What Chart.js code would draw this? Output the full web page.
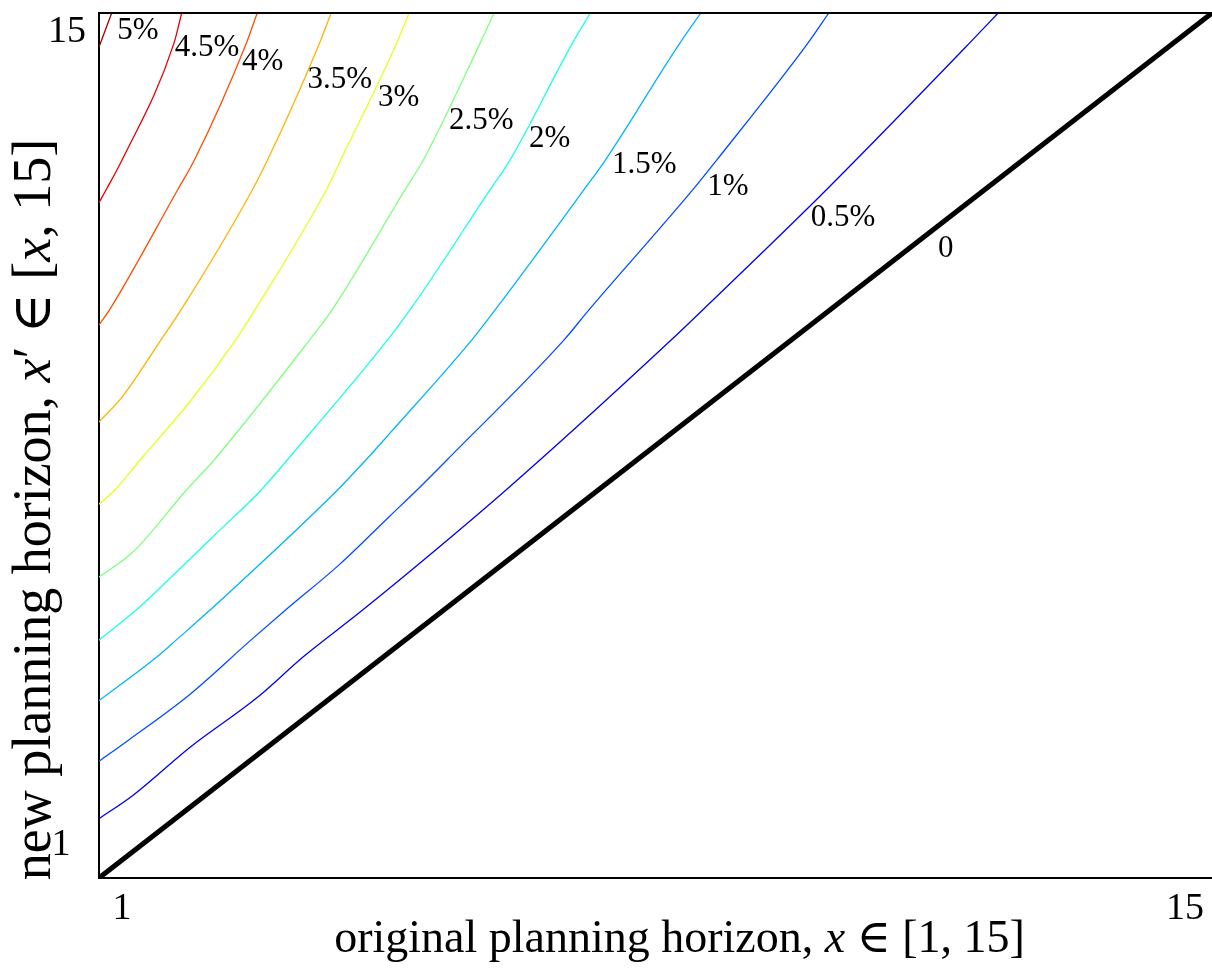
<!DOCTYPE html>
<html>
<head>
<meta charset="utf-8">
<title>planning horizon contours</title>
<script src="https://cdn.jsdelivr.net/npm/chart.js@4.4.1/dist/chart.umd.min.js"></script>
<style>
  html, body { margin: 0; padding: 0; background: #fff; overflow: hidden; }
  canvas { display: block; }
</style>
</head>
<body>
<canvas id="chart" width="1212" height="968"></canvas>
<script>
// ── contour levels, jet colours ──
const levelLabels = ['0.5%', '1%', '1.5%', '2%', '2.5%', '3%', '3.5%', '4%', '4.5%', '5%'];
const levelColors = ['#0000e6', '#004dff', '#00b3ff', '#1affe6', '#80ff80',
                     '#e6ff1a', '#ffb300', '#ff4d00', '#e60000', '#a00000'];

// contour lines, [x, x']
const line0  = [[1, 1], [15, 15]];
const line05 = [[1, 1.96], [1.43, 2.34], [2.15, 3.12], [2.99, 3.92], [3.57, 4.58], [4.32, 5.34],
                [6.12, 7.28], [8.20, 9.71], [8.59, 10.19], [10.15, 12.14], [11.94, 14.50], [12.31, 15]];
const line1  = [[1, 2.89], [1.37, 3.23], [2.15, 3.98], [2.91, 4.85], [3.35, 5.34], [4.03, 6.08],
                [4.66, 6.86], [5.00, 7.28], [5.38, 7.77], [6.85, 9.71], [7.16, 10.19], [8.47, 12.14],
                [8.77, 12.62], [9.91, 14.50], [10.18, 15]];
const line15 = [[1, 3.87], [1.73, 4.58], [1.97, 4.85], [2.40, 5.34], [4.00, 7.28], [4.36, 7.77],
                [4.66, 8.20], [5.69, 9.71], [5.98, 10.19], [7.10, 12.14], [7.37, 12.62],
                [8.30, 14.50], [8.57, 15]];
const line2  = [[1, 4.85], [1.47, 5.34], [1.86, 5.81], [2.43, 6.52], [3.04, 7.28], [3.37, 7.77],
                [4.63, 9.71], [4.91, 10.19], [5.92, 12.14], [6.17, 12.62], [6.95, 14.50], [7.18, 15]];
const line25 = [[1, 5.87], [1.43, 6.28], [2.10, 7.28], [2.45, 7.77], [3.65, 9.71], [3.93, 10.19],
                [4.85, 12.14], [5.08, 12.62], [5.79, 14.50], [5.97, 15]];
const line3  = [[1, 7.05], [1.20, 7.28], [1.52, 7.77], [2.15, 8.72], [2.72, 9.71], [2.96, 10.19],
                [3.86, 12.14], [4.04, 12.62], [4.74, 14.50], [4.90, 15]];
const line35 = [[1, 8.38], [1.30, 8.80], [1.78, 9.71], [2.03, 10.19], [2.93, 12.14], [3.12, 12.62],
                [3.77, 14.50], [3.92, 15]];
const line4  = [[1, 9.95], [1.13, 10.19], [1.99, 12.14], [2.20, 12.62], [2.85, 14.50], [2.99, 15]];
const line45 = [[1, 11.93], [1.09, 12.14], [1.29, 12.62], [1.94, 14.50], [2.04, 15]];
const line5  = [[1, 14.45], [1.16, 15]];
const contourLines = [line05, line1, line15, line2, line25, line3, line35, line4, line45, line5];

// where the level labels sit (same order, then the 0 line)
const labelTexts = [...levelLabels, '0'];
const labelX = [10.36, 8.91, 7.86, 6.67, 5.81, 4.77, 4.03, 3.06, 2.36, 1.49, 11.65];
const labelY = [11.68, 12.18, 12.54, 12.96, 13.25, 13.62, 13.92, 14.21, 14.43, 14.71, 11.18];

const xTickValues = [1, 15];
const xTickLabels = ['1', '15'];
const yTickValues = [1, 15];
const yTickLabels = ['1', '15'];

const SERIF = '"Liberation Serif", "DejaVu Serif", serif';

// titles as runs so the maths can be italic
const xTitle = [['original planning horizon, ', ''], ['x', 'italic '], [' \u2208 [1, 15]', '']];
const yTitle = [['new planning horizon, ', ''], ['x', 'italic '], ['\u2032 \u2208 [', ''],
                ['x', 'italic '], [', 15]', '']];

function drawRuns(ctx, runs, size, cx, cy, angle) {
  ctx.save();
  ctx.translate(cx, cy);
  ctx.rotate(angle);
  ctx.textAlign = 'left';
  ctx.textBaseline = 'alphabetic';
  let total = 0;
  const widths = runs.map(([t, style]) => {
    ctx.font = style + size + 'px ' + SERIF;
    const w = ctx.measureText(t).width;
    total += w;
    return w;
  });
  let pos = -total / 2;
  runs.forEach(([t, style], i) => {
    ctx.font = style + size + 'px ' + SERIF;
    ctx.fillText(t, pos, 0);
    pos += widths[i];
  });
  ctx.restore();
}

// tick labels, contour labels and titles, placed like the LaTeX export
const mathLabels = {
  id: 'mathLabels',
  afterDraw(chart) {
    const { ctx, chartArea: a, scales: { x, y } } = chart;
    ctx.save();
    ctx.strokeStyle = '#000';
    ctx.lineWidth = 2;
    ctx.beginPath();
    ctx.moveTo(a.left - 1, a.top);
    ctx.lineTo(a.right, a.top);
    ctx.stroke();

    ctx.fillStyle = '#000';
    ctx.textAlign = 'center';
    ctx.textBaseline = 'middle';
    ctx.font = '31px ' + SERIF;
    labelTexts.forEach((t, i) => {
      ctx.fillText(t, x.getPixelForValue(labelX[i]), y.getPixelForValue(labelY[i]));
    });

    // tick labels are set a little inside the corners
    ctx.font = '38px ' + SERIF;
    xTickValues.forEach((v, i) => {
      ctx.fillText(xTickLabels[i], x.getPixelForValue(v) + (i ? -27 : 23), a.bottom + 31);
    });
    yTickValues.forEach((v, i) => {
      ctx.fillText(yTickLabels[i], a.left - (i ? 32 : 38), y.getPixelForValue(v) + (i ? 19 : -33));
    });

    drawRuns(ctx, xTitle, 46, (a.left + a.right) / 2 + 24, a.bottom + 74, 0);
    drawRuns(ctx, yTitle, 54, 50, (a.top + a.bottom) / 2 + 64, -Math.PI / 2);
    ctx.restore();
  }
};

const datasets = contourLines.map((pts, i) => ({
  label: levelLabels[i],
  data: pts.map(p => ({ x: p[0], y: p[1] })),
  borderColor: levelColors[i],
  borderWidth: 1.3,
  cubicInterpolationMode: 'monotone'
}));
datasets.push({
  label: '0',
  data: line0.map(p => ({ x: p[0], y: p[1] })),
  borderColor: '#000',
  borderWidth: 5
});

const axis = {
  type: 'linear',
  min: 1,
  max: 15,
  grid: { display: false, drawTicks: false },
  ticks: { display: false },
  border: { display: true, color: '#000', width: 2 }
};

new Chart(document.getElementById('chart'), {
  type: 'scatter',
  data: { datasets },
  options: {
    responsive: false,
    devicePixelRatio: 1,
    animation: false,
    showLine: true,
    elements: { point: { radius: 0 } },
    layout: { padding: { left: 99, top: 13, right: 0, bottom: 90 } },
    plugins: { legend: { display: false }, tooltip: { enabled: false } },
    scales: { x: { ...axis }, y: { ...axis } }
  },
  plugins: [mathLabels]
});
</script>
</body>
</html>
